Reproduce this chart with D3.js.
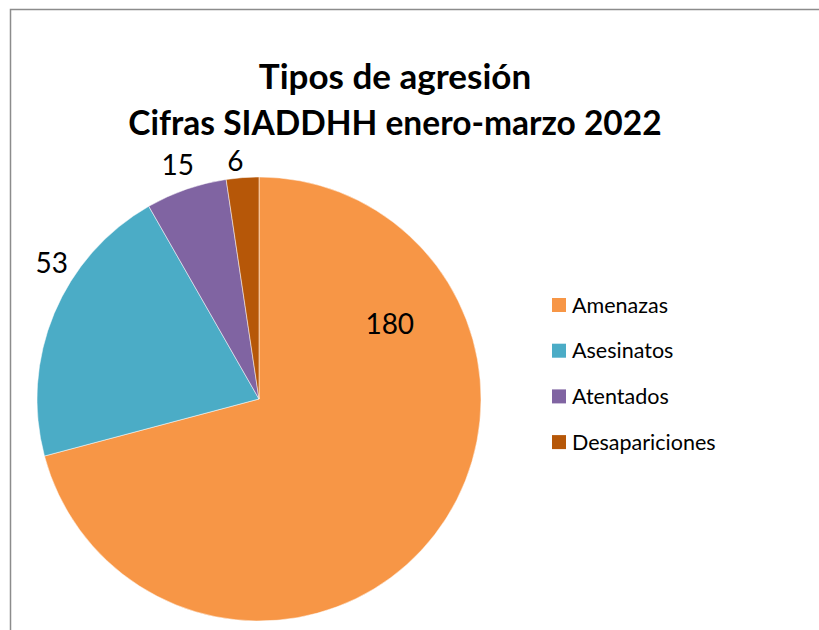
<!DOCTYPE html>
<html><head><meta charset="utf-8">
<script src="https://cdn.jsdelivr.net/npm/d3@7"></script>
<style>body{margin:0;background:#fff}svg{display:block}</style>
</head><body>
<svg id="c" width="819" height="630"></svg>
<script>
const categories = ["Amenazas", "Asesinatos", "Atentados", "Desapariciones"];
const values = [180, 53, 15, 6];
const colors = ["#F79646", "#4BACC6", "#8064A2", "#B65708"];
const titleLines = ["Tipos de agresión", "Cifras SIADDHH enero-marzo 2022"];
// label placement: [radius, angle (deg, clockwise from top)]
const labelPlace = [[151, 60], [248, 303.3], [248, 340.9], [239, 354.3]];

const svg = d3.select("#c");
const font = "Lato, 'Open Sans', sans-serif";

// border
svg.append("path").attr("d", "M10.5,640 V9.5 H830").attr("fill", "none").attr("stroke", "#8c8c8c").attr("stroke-width", 1.5);

// title
svg.selectAll("text.title").data(titleLines).join("text")
  .attr("x", 395).attr("y", (d, i) => 89 + i * 46)
  .attr("text-anchor", "middle").attr("font-family", font).attr("font-weight", "bold")
  .attr("font-size", (d, i) => i === 0 ? 35 : 33.5).attr("fill", "#000").text(d => d);

const cx = 259, cy = 399, r = 222;
const pie = d3.pie().sort(null).value(d => d)(values);
const arc = d3.arc().innerRadius(0).outerRadius(r);
const g = svg.append("g").attr("transform", `translate(${cx},${cy})`);
g.selectAll("path").data(pie).join("path")
  .attr("d", arc).attr("fill", (d, i) => colors[i])
  .attr("stroke", "#fff").attr("stroke-width", 0.5);

g.selectAll("text").data(pie).join("text")
  .attr("x", (d, i) => labelPlace[i][0] * Math.sin(labelPlace[i][1] * Math.PI / 180))
  .attr("y", (d, i) => -labelPlace[i][0] * Math.cos(labelPlace[i][1] * Math.PI / 180))
  .attr("text-anchor", "middle").attr("dy", "0.36em")
  .attr("font-family", font).attr("font-size", 28).attr("fill", "#000")
  .text(d => d.data);

// legend
const lg = svg.append("g").attr("transform", "translate(552,305)");
const rows = lg.selectAll("g").data(categories).join("g")
  .attr("transform", (d, i) => `translate(0,${i * 45.7})`);
rows.append("rect").attr("x", 0).attr("y", -7).attr("width", 14).attr("height", 14)
  .attr("fill", (d, i) => colors[i]);
rows.append("text").attr("x", 20).attr("y", 0).attr("dy", "0.36em")
  .attr("font-family", font).attr("font-size", 21.5).attr("fill", "#000").text(d => d);
</script>
</body></html>
